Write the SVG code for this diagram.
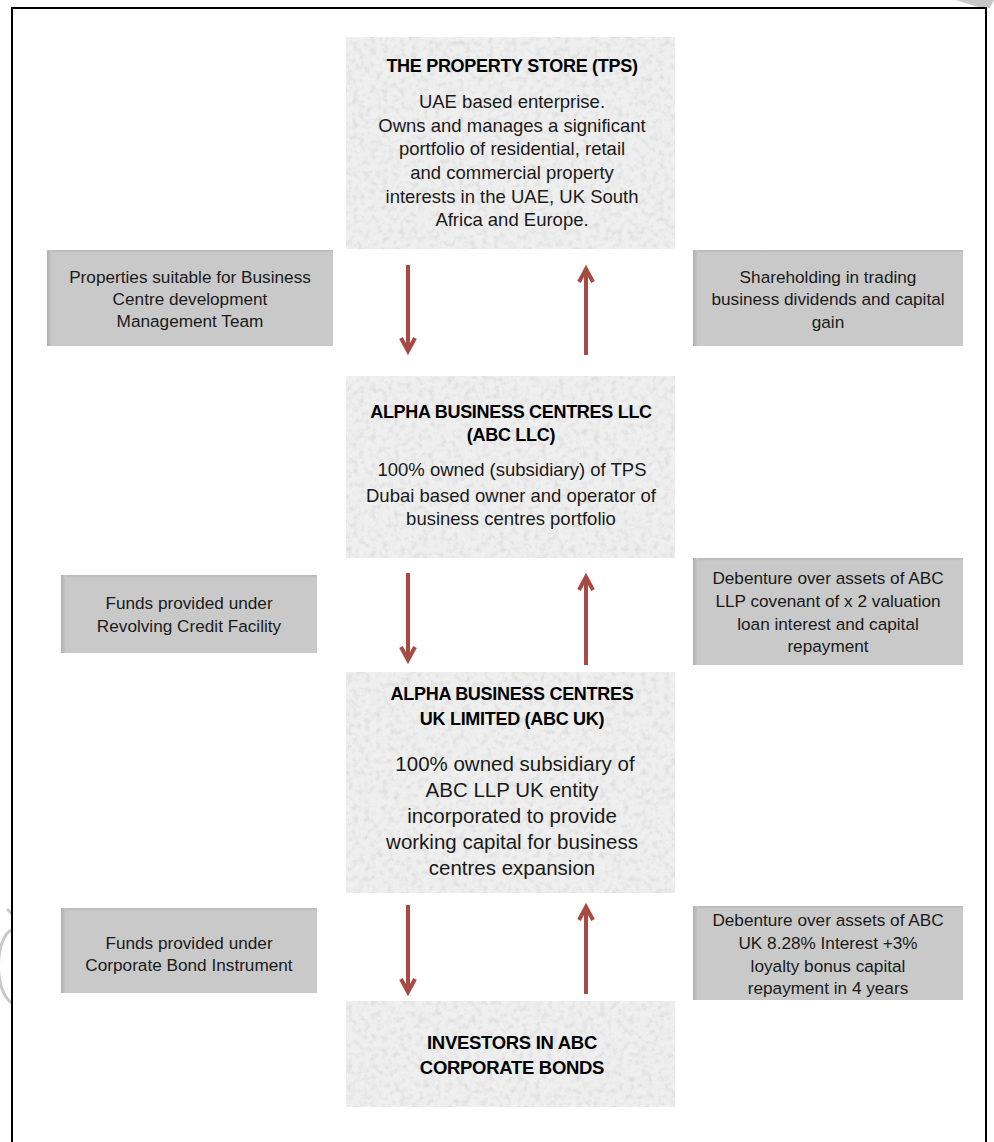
<svg xmlns="http://www.w3.org/2000/svg" width="994" height="1142" viewBox="0 0 994 1142">
<defs>
<filter id="granite" x="0" y="0" width="1" height="1" filterUnits="objectBoundingBox">
<feTurbulence type="fractalNoise" baseFrequency="0.17" numOctaves="3" seed="4" result="n"/>
<feColorMatrix in="n" type="matrix" values="0 0 0 0 0.70  0 0 0 0 0.70  0 0 0 0 0.70  2.0 0 0 0 -0.88" result="spots"/>
<feFlood flood-color="#efefef" result="bg"/>
<feMerge><feMergeNode in="bg"/><feMergeNode in="spots"/></feMerge>
</filter>
<linearGradient id="leftShade" x1="0" y1="0" x2="1" y2="0">
<stop offset="0" stop-color="#aeaeae"/><stop offset="1" stop-color="#c9c9c9"/>
</linearGradient>
<linearGradient id="topShade" x1="0" y1="0" x2="0" y2="1">
<stop offset="0" stop-color="#b8b8b8"/><stop offset="1" stop-color="#c9c9c9"/>
</linearGradient>
</defs>
<style>
.main{filter:url(#granite);stroke:#e2e2e2;stroke-width:1}
.side{fill:#c9c9c9}
.t{font-family:"Liberation Sans",Arial,sans-serif;fill:#111;text-anchor:middle}
.title{font-size:18px;font-weight:bold;letter-spacing:-0.3px;fill:#000}
.body{font-size:18.5px;fill:#1a1a1a}
.big{font-size:20.5px;fill:#1a1a1a}
.small{font-size:17.2px;fill:#1a1a1a}
.arr{stroke:#a84a44;stroke-width:4;fill:none}
.head{stroke:#a84a44;stroke-width:4;fill:none;stroke-linejoin:miter;stroke-linecap:butt}
</style>
<rect x="0" y="0" width="994" height="1142" fill="#ffffff"/>
<!-- faint watermark marks -->
<polygon points="956,0 994,0 990,8 978,7" fill="#c8c8c8"/>
<path d="M12,930 C-4,935 -8,990 12,1003" fill="none" stroke="#c8c8c8" stroke-width="3"/>
<path d="M7,909 L12,914" fill="none" stroke="#c8c8c8" stroke-width="3"/>
<!-- frame -->
<rect x="12" y="8" width="974" height="1150" fill="none" stroke="#000" stroke-width="2"/>

<g id="tps">
<rect class="main" x="346" y="37" width="329" height="212"/>
<text class="t title" x="512" y="72">THE PROPERTY STORE (TPS)</text>
<text class="t body" x="512" y="108">UAE based enterprise.</text>
<text class="t body" x="512" y="132">Owns and manages a significant</text>
<text class="t body" x="512" y="155">portfolio of residential, retail</text>
<text class="t body" x="512" y="179">and commercial property</text>
<text class="t body" x="512" y="203">interests in the UAE, UK South</text>
<text class="t body" x="512" y="226">Africa and Europe.</text>
</g>

<g id="abc-llc">
<rect class="main" x="346" y="376" width="329" height="182"/>
<text class="t title" x="511" y="418">ALPHA BUSINESS CENTRES LLC</text>
<text class="t title" x="511" y="441">(ABC LLC)</text>
<text class="t body" x="512" y="476">100% owned (subsidiary) of TPS</text>
<text class="t body" x="511" y="502">Dubai based owner and operator of</text>
<text class="t body" x="511" y="525">business centres portfolio</text>
</g>

<g id="abc-uk">
<rect class="main" x="346" y="672" width="329" height="221"/>
<text class="t title" x="512" y="700">ALPHA BUSINESS CENTRES</text>
<text class="t title" x="512" y="725">UK LIMITED (ABC UK)</text>
<text class="t big" x="515" y="771">100% owned subsidiary of</text>
<text class="t big" x="512" y="797">ABC LLP UK entity</text>
<text class="t big" x="512" y="823">incorporated to provide</text>
<text class="t big" x="512" y="849">working capital for business</text>
<text class="t big" x="512" y="875">centres expansion</text>
</g>

<g id="investors">
<rect class="main" x="346" y="1001" width="329" height="106"/>
<text class="t title" x="512" y="1049" style="font-size:18.5px">INVESTORS IN ABC</text>
<text class="t title" x="512" y="1074" style="font-size:18.5px">CORPORATE BONDS</text>
</g>

<g id="side-properties">
<rect class="side" x="47" y="250" width="286" height="96"/>
<rect x="47" y="250" width="286" height="3" fill="url(#topShade)"/>
<rect x="47" y="250" width="5" height="96" fill="url(#leftShade)"/>
<text class="t small" x="190" y="283">Properties suitable for Business</text>
<text class="t small" x="190" y="305">Centre development</text>
<text class="t small" x="190" y="327">Management Team</text>
</g>

<g id="side-shareholding">
<rect class="side" x="693" y="250" width="270" height="96"/>
<rect x="693" y="250" width="270" height="3" fill="url(#topShade)"/>
<rect x="693" y="250" width="5" height="96" fill="url(#leftShade)"/>
<text class="t small" x="828" y="283">Shareholding in trading</text>
<text class="t small" x="828" y="305">business dividends and capital</text>
<text class="t small" x="828" y="328">gain</text>
</g>

<g id="side-rcf">
<rect class="side" x="61" y="575" width="256" height="78"/>
<rect x="61" y="575" width="256" height="3" fill="url(#topShade)"/>
<rect x="61" y="575" width="5" height="78" fill="url(#leftShade)"/>
<text class="t small" x="189" y="609">Funds provided under</text>
<text class="t small" x="189" y="632">Revolving Credit Facility</text>
</g>

<g id="side-debenture-llp">
<rect class="side" x="693" y="558" width="270" height="107"/>
<rect x="693" y="558" width="270" height="3" fill="url(#topShade)"/>
<rect x="693" y="558" width="5" height="107" fill="url(#leftShade)"/>
<text class="t small" x="828" y="584">Debenture over assets of ABC</text>
<text class="t small" x="828" y="607">LLP covenant of x 2 valuation</text>
<text class="t small" x="828" y="630">loan interest and capital</text>
<text class="t small" x="828" y="652">repayment</text>
</g>

<g id="side-bond">
<rect class="side" x="61" y="908" width="256" height="85"/>
<rect x="61" y="908" width="256" height="3" fill="url(#topShade)"/>
<rect x="61" y="908" width="5" height="85" fill="url(#leftShade)"/>
<text class="t small" x="189" y="949">Funds provided under</text>
<text class="t small" x="189" y="971">Corporate Bond Instrument</text>
</g>

<g id="side-debenture-uk">
<rect class="side" x="693" y="906" width="270" height="94"/>
<rect x="693" y="906" width="270" height="3" fill="url(#topShade)"/>
<rect x="693" y="906" width="5" height="94" fill="url(#leftShade)"/>
<text class="t small" x="828" y="926">Debenture over assets of ABC</text>
<text class="t small" x="828" y="949">UK 8.28% Interest +3%</text>
<text class="t small" x="828" y="972">loyalty bonus capital</text>
<text class="t small" x="828" y="994">repayment in 4 years</text>
</g>

<g id="connectors">
<line class="arr" x1="408" y1="265" x2="408" y2="350"/>
<polyline class="head" points="401,338 408,351 415,338"/>
<line class="arr" x1="586" y1="270" x2="586" y2="355"/>
<polyline class="head" points="579,282 586,269 593,282"/>

<line class="arr" x1="408" y1="573" x2="408" y2="659"/>
<polyline class="head" points="401,647 408,660 415,647"/>
<line class="arr" x1="586" y1="579" x2="586" y2="665"/>
<polyline class="head" points="579,590 586,577 593,590"/>

<line class="arr" x1="408" y1="905" x2="408" y2="991"/>
<polyline class="head" points="401,979 408,992 415,979"/>
<line class="arr" x1="586" y1="909" x2="586" y2="994"/>
<polyline class="head" points="579,920 586,907 593,920"/>
</g>
</svg>
